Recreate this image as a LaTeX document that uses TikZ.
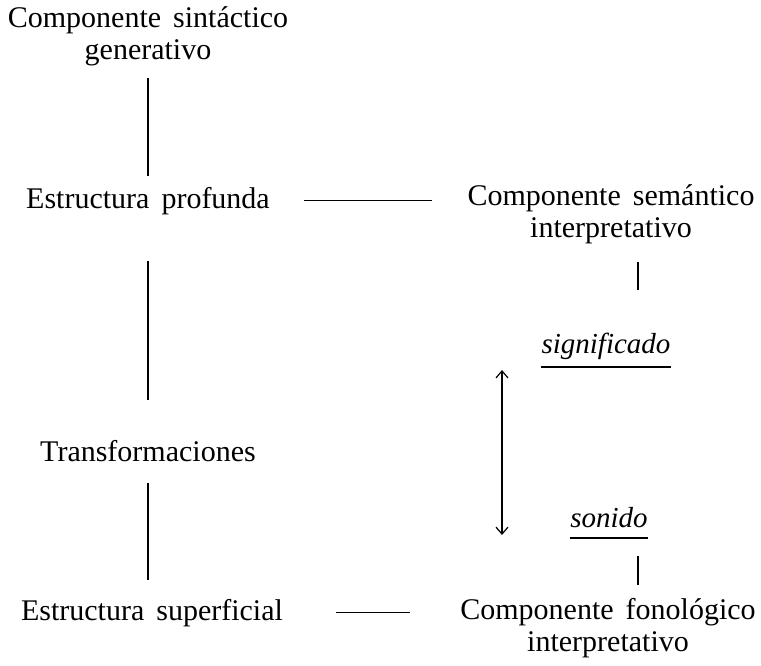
\documentclass[tikz,border=0pt]{standalone}
\usepackage{fontspec}
\setmainfont{Liberation Serif}[WordSpace=1.6]
\usetikzlibrary{calc, arrows.meta}

\begin{document}
\begin{tikzpicture}[x=1pt, y=-1pt, line width=1.2pt,
	every node/.style={font=\fontsize{30}{32}\selectfont, align=center, inner sep=0pt, anchor=base},
	word/.style={font=\fontsize{29}{32}\selectfont\itshape}]
	\useasboundingbox (0,0) rectangle (761,665);

	\node (gen) at (148,59) {Componente sintáctico\\generativo};
	\node (prof) at (148,208) {Estructura profunda};
	\node (trans) at (148,461) {Transformaciones};
	\node (sup) at (152,620) {Estructura superficial};

	\node (sem) at (611,237) {Componente semántico\\interpretativo};
	\node[word] (sig) at (606,353) {significado};
	\node[word] (son) at (609,527) {sonido};
	\node (fon) at (608,651) {Componente fonológico\\interpretativo};

	\draw[shorten <=12pt, shorten >=10pt] (gen.south -| prof.base) -- (prof.north);
	\draw[shorten <=46pt, shorten >=39pt] (prof.south) -- (trans.north);
	\draw[shorten <=21pt, shorten >=18pt] (trans.south) -- (trans.south |- sup.north);

	\draw[shorten <=34pt, shorten >=35pt] (prof.east) -- (prof.east -| sem.west);
	\draw[shorten <=52pt, shorten >=50pt] (sup.east) -- (sup.east -| fon.west);

	\coordinate (semstub) at (638,262);
	\coordinate (fonstub) at (638,556);
	\draw (semstub) -- ++(0,28);
	\draw (fonstub) -- ++(0,29);

	\draw ([yshift=-14pt]sig.base west) -- ([yshift=-14pt]sig.base east);
	\draw ([yshift=-11pt]son.base west) -- ([yshift=-11pt]son.base east);

	\coordinate (top) at (502,370);
	\coordinate (bot) at (502,535);
	\draw[{Straight Barb[length=7pt,width=12pt]}-{Straight Barb[length=7pt,width=12pt]}] (top) -- (bot);
\end{tikzpicture}
\end{document}
